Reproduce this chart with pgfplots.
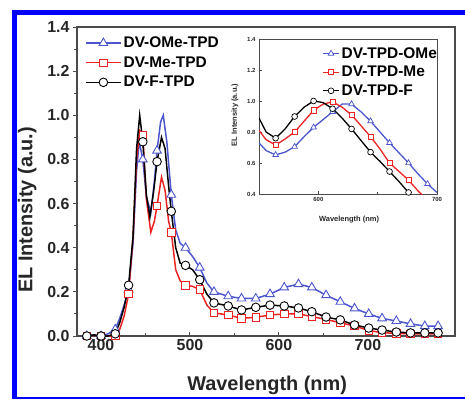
\documentclass[border=0pt]{standalone}
\usepackage{pgfplots}
\pgfplotsset{compat=1.18}
\usepackage{pgfplotstable}
\usepackage{fontspec}
\setmainfont{Liberation Sans}
\definecolor{cBlue}{RGB}{75,85,205}
\definecolor{cRed}{RGB}{235,35,35}
\definecolor{cAx}{RGB}{75,75,75}

% main: DV-OMe-TPD
\pgfplotstableread{
x y m
384 0 1
392 0.005 0
400 0 1
408 0.01 0
416 0.03 1
421 0.08 0
426 0.14 0
431 0.21 1
436 0.42 0
440 0.75 0
443 0.88 0
447 0.80 1
451 0.63 0
456 0.56 0
460 0.70 0
463 0.84 1
467 0.97 0
470 1.0 0
474 0.88 0
479 0.64 1
484 0.48 0
489 0.42 0
495 0.40 1
503 0.36 0
511 0.31 1
519 0.24 0
527 0.20 1
543 0.18 1
558 0.17 1
574 0.17 1
590 0.19 1
606 0.22 1
622 0.235 1
637 0.22 1
653 0.185 1
669 0.155 1
685 0.125 1
701 0.10 1
716 0.08 1
732 0.068 1
748 0.055 1
764 0.045 1
779 0.045 1
}\tblB
% main: DV-Me-TPD
\pgfplotstableread{
x y m
384 0 1
392 0.003 0
400 0 1
408 0 0
416 0.0 1
421 0.03 0
426 0.09 0
431 0.19 1
436 0.45 0
440 0.80 0
443.5 0.93 0
447 0.91 1
451 0.62 0
456 0.47 0
460 0.52 0
463 0.59 1
468 0.72 0
472 0.66 0
476 0.52 0
479 0.47 1
484 0.30 0
489 0.25 0
495 0.23 1
503 0.225 0
511 0.21 1
519 0.14 0
527 0.105 1
543 0.095 1
558 0.08 1
574 0.085 1
590 0.095 1
606 0.10 1
622 0.10 1
637 0.088 1
653 0.075 1
669 0.06 1
685 0.045 1
701 0.025 1
716 0.015 1
732 0.012 1
748 0.01 1
764 0.01 1
779 0.01 1
}\tblR
% main: DV-F-TPD
\pgfplotstableread{
x y m
384 0 1
392 0.005 0
400 0 1
408 0.0 0
416 0.01 1
421 0.06 0
426 0.13 0
431 0.23 1
436 0.45 0
440 0.85 0
443.5 1.0 0
447 0.88 1
451 0.64 0
455 0.54 0
459 0.65 0
463 0.79 1
468 0.90 0
472 0.85 0
476 0.68 0
479 0.565 1
484 0.40 0
489 0.33 0
495 0.32 1
503 0.30 0
511 0.255 1
519 0.19 0
527 0.15 1
543 0.136 1
558 0.118 1
574 0.13 1
590 0.14 1
606 0.136 1
622 0.127 1
637 0.11 1
653 0.086 1
669 0.073 1
685 0.05 1
701 0.036 1
716 0.027 1
732 0.018 1
748 0.014 1
764 0.014 1
779 0.014 1
}\tblK
% inset
\pgfplotstableread{
x y m
550 0.73 0
556 0.68 0
564 0.652 1
572 0.67 0
580 0.705 1
588 0.77 0
596 0.83 1
604 0.88 0
612 0.93 1
620 0.98 0
628 0.98 1
636 0.93 0
644 0.87 1
652 0.80 0
660 0.73 1
668 0.665 0
676 0.60 1
684 0.53 0
692 0.465 1
700 0.41 0
}\inB
\pgfplotstableread{
x y m
550 0.81 0
556 0.75 0
564 0.716 1
572 0.755 0
580 0.80 1
588 0.87 0
596 0.94 1
604 0.98 0
612 0.995 1
620 0.96 0
628 0.91 1
636 0.84 0
644 0.77 1
652 0.69 0
660 0.60 1
668 0.545 0
676 0.49 1
684 0.42 0
692 0.36 0
}\inR
\pgfplotstableread{
x y m
550 0.89 0
556 0.80 0
564 0.76 1
572 0.82 0
580 0.90 1
588 0.96 0
596 1.0 1
604 0.99 0
612 0.95 1
620 0.89 0
628 0.82 1
636 0.745 0
644 0.67 1
652 0.61 0
660 0.545 1
668 0.48 0
676 0.41 1
684 0.34 0
}\inK

\begin{document}
\begin{tikzpicture}[x=1bp,y=1bp]
\useasboundingbox (0,0) rectangle (465,399);
\fill[blue] (12,0) rectangle (17,389);
\fill[blue] (12,384) rectangle (465,389);
\fill[blue] (12,0) rectangle (465,2);

\begin{axis}[
  at={(77bp,63bp)}, anchor=south west, scale only axis,
  width=378bp, height=309bp,
  xmin=373, xmax=798, ymin=0, ymax=1.4,
  clip mode=individual,
  axis line style={cAx, line width=1.1pt},
  xtick={400,500,600,700,800}, minor xtick={450,550,650,750},
  ytick={0,0.2,0.4,0.6,0.8,1.0,1.2,1.4}, minor ytick={0.1,0.3,0.5,0.7,0.9,1.1,1.3},
  xtick pos=lower, ytick pos=left,
  xtick align=inside, ytick align=outside,
  major tick length=4bp, minor tick length=3bp,
  tick style={cAx, line width=1pt},
  /pgf/number format/assume math mode=true,
  tick label style={font=\fontsize{16}{16}\selectfont\bfseries, text=black!85},
  xticklabel style={/pgf/number format/1000 sep={}},
  yticklabel style={/pgf/number format/.cd, fixed, fixed zerofill, precision=1},
  xlabel={Wavelength (nm)},
  ylabel={EL Intensity (a.u.)},
  xlabel style={font=\fontsize{20}{20}\selectfont\bfseries, text=black!85, at={(axis description cs:0.503,-0.159)}, anchor=center},
  ylabel style={font=\fontsize{20}{20}\selectfont\bfseries, text=black!85, at={(axis description cs:-0.132,0.408)}, anchor=center},
  legend image code/.code={\draw[mark repeat=2,mark phase=2,#1] plot coordinates {(0bp,0bp) (17.5bp,0bp) (35bp,0bp)};},
  legend style={draw=none, fill=none, at={(0.021,0.975)}, anchor=north west, font=\fontsize{15.5}{18}\selectfont\bfseries, row sep=3.5bp, inner sep=0pt},
  legend cell align=left,
]
\addplot[cBlue, line width=1.5pt, forget plot] table[x=x,y=y]{\tblB};
\addplot[cRed, line width=1.5pt, forget plot] table[x=x,y=y]{\tblR};
\addplot[black, line width=1.5pt, forget plot] table[x=x,y=y]{\tblK};
\addplot[cBlue, only marks, mark=triangle*, mark size=5, mark options={fill=white, line width=0.9pt}, forget plot, restrict expr to domain={\thisrow{m}}{1:1}] table[x=x,y=y]{\tblB};
\addplot[cRed, only marks, mark=square*, mark size=3.8, mark options={fill=white, line width=0.9pt}, forget plot, restrict expr to domain={\thisrow{m}}{1:1}] table[x=x,y=y]{\tblR};
\addplot[black, only marks, mark=*, mark size=4.3, mark options={fill=white, line width=0.9pt}, forget plot, restrict expr to domain={\thisrow{m}}{1:1}] table[x=x,y=y]{\tblK};
\addlegendimage{cBlue, line width=1.5pt, mark=triangle*, mark size=5, mark options={fill=white, line width=0.9pt}}
\addlegendentry{DV-OMe-TPD}
\addlegendimage{cRed, line width=1.5pt, mark=square*, mark size=3.8, mark options={fill=white, line width=0.9pt}}
\addlegendentry{DV-Me-TPD}
\addlegendimage{black, line width=1.5pt, mark=*, mark size=4.3, mark options={fill=white, line width=0.9pt}}
\addlegendentry{DV-F-TPD}
\end{axis}

\begin{axis}[
  at={(259bp,205bp)}, anchor=south west, scale only axis,
  width=178bp, height=155bp,
  xmin=550, xmax=700, ymin=0.4, ymax=1.4,
  axis line style={cAx, line width=0.9pt},
  xtick={600,700}, minor xtick={650},
  ytick={0.4,0.6,0.8,1.0,1.2,1.4},
  xtick pos=lower, ytick pos=left,
  tick align=inside,
  major tick length=3bp, minor tick length=2bp,
  tick style={cAx, line width=0.7pt},
  /pgf/number format/assume math mode=true,
  tick label style={font=\fontsize{6}{6}\selectfont\bfseries, text=black!85},
  xticklabel style={/pgf/number format/1000 sep={}},
  yticklabel style={/pgf/number format/.cd, fixed, fixed zerofill, precision=1},
  xlabel={Wavelength (nm)},
  ylabel={EL Intensity (a.u.)},
  xlabel style={font=\fontsize{7.5}{7.5}\selectfont\bfseries, text=black!85, at={(axis description cs:0.506,-0.168)}, anchor=center},
  ylabel style={font=\fontsize{7.5}{7.5}\selectfont\bfseries, text=black!85, at={(axis description cs:-0.135,0.51)}, anchor=center},
  legend image code/.code={\draw[mark repeat=2,mark phase=2,#1] plot coordinates {(0bp,0bp) (8bp,0bp) (16bp,0bp)};},
  legend style={draw=none, fill=none, at={(0.355,0.96)}, anchor=north west, font=\fontsize{15.5}{18}\selectfont\bfseries, row sep=2.5bp, inner sep=0pt},
  legend cell align=left,
]
\addplot[cBlue, line width=1.3pt, forget plot] table[x=x,y=y]{\inB};
\addplot[cRed, line width=1.3pt, forget plot] table[x=x,y=y]{\inR};
\addplot[black, line width=1.3pt, forget plot] table[x=x,y=y]{\inK};
\addplot[cBlue, only marks, mark=triangle*, mark size=3.3, mark options={fill=white, line width=0.7pt}, forget plot, restrict expr to domain={\thisrow{m}}{1:1}] table[x=x,y=y]{\inB};
\addplot[cRed, only marks, mark=square*, mark size=2.6, mark options={fill=white, line width=0.7pt}, forget plot, restrict expr to domain={\thisrow{m}}{1:1}] table[x=x,y=y]{\inR};
\addplot[black, only marks, mark=*, mark size=2.9, mark options={fill=white, line width=0.7pt}, forget plot, restrict expr to domain={\thisrow{m}}{1:1}] table[x=x,y=y]{\inK};
\addlegendimage{cBlue, line width=1.3pt, mark=triangle*, mark size=3.3, mark options={fill=white, line width=0.7pt}}
\addlegendentry{DV-TPD-OMe}
\addlegendimage{cRed, line width=1.3pt, mark=square*, mark size=2.6, mark options={fill=white, line width=0.7pt}}
\addlegendentry{DV-TPD-Me}
\addlegendimage{black, line width=1.3pt, mark=*, mark size=2.9, mark options={fill=white, line width=0.7pt}}
\addlegendentry{DV-TPD-F}
\end{axis}
\end{tikzpicture}
\end{document}
